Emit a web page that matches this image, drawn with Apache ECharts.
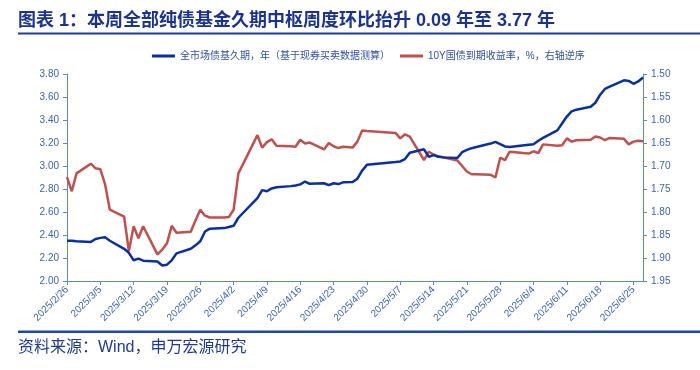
<!DOCTYPE html>
<html>
<head>
<meta charset="utf-8">
<script src="https://cdn.jsdelivr.net/npm/echarts@6/dist/echarts.min.js"></script>
<style>
html,body{margin:0;padding:0;background:#fff;}
#chart{width:700px;height:370px;}
</style>
</head>
<body>
<div id="chart"></div>
<script>
// ---- data ----
var titleText = '图表 1：本周全部纯债基金久期中枢周度环比抬升 0.09 年至 3.77 年';
var sourceText = '资料来源：Wind，申万宏源研究';
var seriesNames = ['全市场债基久期，年（基于现券买卖数据测算）', '10Y国债到期收益率，%，右轴逆序'];
var axisStart = '2025-02-26';
var axisEnd = '2025-06-27';
var tradeDates = [
 '2/26','2/27','2/28',
 '3/3','3/4','3/5','3/6','3/7','3/10','3/11','3/12','3/13','3/14',
 '3/17','3/18','3/19','3/20','3/21','3/24','3/25','3/26','3/27','3/28','3/31',
 '4/1','4/2','4/3','4/7','4/8','4/9','4/10','4/11','4/14','4/15','4/16','4/17','4/18',
 '4/21','4/22','4/23','4/24','4/25','4/27','4/28','4/29','4/30',
 '5/6','5/7','5/8','5/9','5/12','5/13','5/14','5/15','5/16','5/19','5/20','5/21','5/22','5/23',
 '5/26','5/27','5/28','5/29','5/30',
 '6/3','6/4','6/5','6/6','6/9','6/10','6/11','6/12','6/13','6/16','6/17','6/18','6/19','6/20',
 '6/23','6/24','6/25','6/26','6/27'
];
var durationValues = [
 2.35,2.35,2.345,
 2.34,2.365,2.375,2.38,2.35,2.28,2.245,2.18,2.195,2.177,
 2.17,2.135,2.142,2.18,2.24,2.28,2.31,2.345,2.43,2.455,2.46,
 2.47,2.48,2.55,2.72,2.79,2.78,2.805,2.815,2.825,2.83,2.84,2.865,2.845,
 2.85,2.833,2.85,2.843,2.858,2.86,2.89,2.96,3.01,
 3.035,3.04,3.06,3.115,3.145,3.08,3.095,3.08,3.075,3.07,3.12,3.14,3.155,3.165,
 3.195,3.21,3.19,3.17,3.165,
 3.185,3.19,3.22,3.245,3.31,3.37,3.43,3.475,3.49,3.515,3.55,3.62,3.67,3.69,
 3.745,3.74,3.715,3.735,3.77
];
var yieldValues = [
 1.724,1.755,1.716,
 1.695,1.705,1.707,1.74,1.795,1.81,1.885,1.831,1.857,1.831,
 1.892,1.882,1.868,1.83,1.845,1.843,1.818,1.795,1.808,1.812,1.812,
 1.811,1.795,1.716,1.633,1.66,1.648,1.642,1.656,1.657,1.658,1.643,1.651,1.649,
 1.664,1.65,1.657,1.661,1.658,1.66,1.647,1.623,1.624,
 1.628,1.64,1.631,1.636,1.687,1.669,1.675,1.679,1.681,1.688,1.70,1.712,1.718,1.718,
 1.719,1.725,1.682,1.687,1.669,
 1.673,1.668,1.672,1.653,1.656,1.655,1.64,1.647,1.644,1.643,1.636,1.638,1.644,1.639,
 1.641,1.653,1.647,1.645,1.646
];
var leftTicks = {min: 2.0, max: 3.8, interval: 0.2};
var rightTicks = {min: 1.50, max: 1.95, interval: 0.05};

// ---- build calendar categories ----
function fmt(d){ return d.getUTCFullYear() + '/' + (d.getUTCMonth()+1) + '/' + d.getUTCDate(); }
var categories = [];
for (var t = Date.parse(axisStart + 'T00:00:00Z'); t <= Date.parse(axisEnd + 'T00:00:00Z'); t += 86400000) {
  categories.push(fmt(new Date(t)));
}
function toSeries(vals){
  var m = {};
  tradeDates.forEach(function(d,i){ m['2025/' + d] = vals[i]; });
  return categories.map(function(c){ return m.hasOwnProperty(c) ? m[c] : null; });
}

var FONT = '"Liberation Sans", Arial, "Noto Sans CJK SC", sans-serif';
var axisColor = '#5b86d4';
var labelColor = '#3d62b6';

var chart = echarts.init(document.getElementById('chart'), null, {renderer: 'canvas'});
chart.setOption({
  animation: false,
  textStyle: {fontFamily: FONT},
  grid: {left: 67, right: 57, top: 74, bottom: 89},
  legend: [
    {left: 147, top: 46, icon: 'rect', itemWidth: 23, itemHeight: 3,
     data: [seriesNames[0]], textStyle: {fontSize: 10, color: '#2f50a8', fontFamily: FONT}},
    {left: 395, top: 46, icon: 'rect', itemWidth: 23, itemHeight: 3,
     data: [seriesNames[1]], textStyle: {fontSize: 10, color: '#2f50a8', fontFamily: FONT}}
  ],
  xAxis: {
    type: 'category', data: categories, boundaryGap: false,
    axisLine: {lineStyle: {color: axisColor, width: 1}},
    axisTick: {show: true, interval: 6, length: 4, lineStyle: {color: axisColor}},
    axisLabel: {interval: 6, rotate: 45, fontSize: 10, color: labelColor, margin: 7,
                hideOverlap: false, fontFamily: FONT},
    splitLine: {show: false}
  },
  yAxis: [
    {type: 'value', min: leftTicks.min, max: leftTicks.max, interval: leftTicks.interval,
     axisLine: {show: true, lineStyle: {color: axisColor}},
     axisTick: {show: true, length: 4, lineStyle: {color: axisColor}},
     axisLabel: {fontSize: 10, color: labelColor, margin: 8, fontFamily: FONT,
                 formatter: function(v){ return v.toFixed(2); }},
     splitLine: {show: false}},
    {type: 'value', inverse: true, min: rightTicks.min, max: rightTicks.max, interval: rightTicks.interval,
     position: 'right',
     axisLine: {show: true, lineStyle: {color: axisColor}},
     axisTick: {show: true, length: 4, lineStyle: {color: axisColor}},
     axisLabel: {fontSize: 10, color: labelColor, margin: 8, fontFamily: FONT,
                 formatter: function(v){ return v.toFixed(2); }},
     splitLine: {show: false}}
  ],
  series: [
    {name: seriesNames[0], type: 'line', yAxisIndex: 0, data: toSeries(durationValues),
     connectNulls: true, symbol: 'none', lineStyle: {color: '#0a2f9e', width: 2.5},
     itemStyle: {color: '#0a2f9e'}, z: 3},
    {name: seriesNames[1], type: 'line', yAxisIndex: 1, data: toSeries(yieldValues),
     connectNulls: true, symbol: 'none', lineStyle: {color: '#c0504d', width: 2.5},
     itemStyle: {color: '#c0504d'}, z: 2}
  ],
  graphic: [
    {type: 'text', left: 18, top: 12, style: {text: titleText, fill: '#1b3290',
      font: 'bold 18px "Liberation Sans", Arial, "Noto Sans CJK SC", sans-serif'}},
    {type: 'rect', shape: {x: 18, y: 32.5, width: 682, height: 2}, style: {fill: '#1f3c9a'}},
    {type: 'rect', shape: {x: 18, y: 330.5, width: 682, height: 2.5}, style: {fill: '#1f47a8'}},
    {type: 'text', left: 18, top: 340, style: {text: sourceText, fill: '#1f3a93',
      font: '16px "Liberation Sans", Arial, "Noto Sans CJK SC", sans-serif'}}
  ]
});
</script>
</body>
</html>
